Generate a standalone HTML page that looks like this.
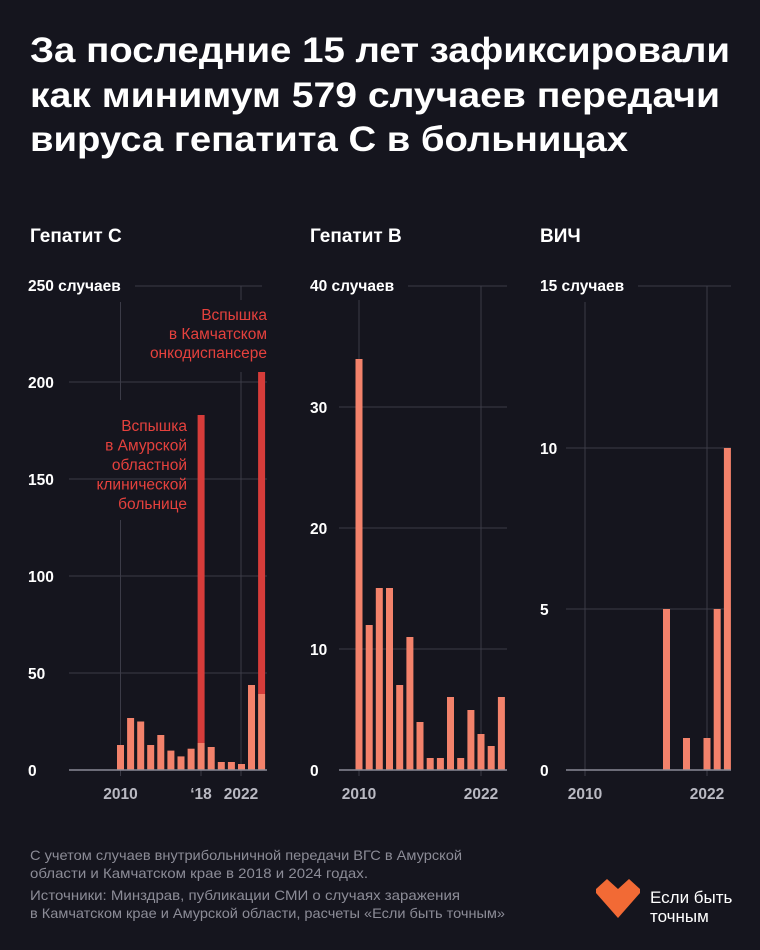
<!DOCTYPE html>
<html><head><meta charset="utf-8"><style>
html,body{margin:0;padding:0;background:#15151e;}
svg{display:block;font-family:"Liberation Sans",sans-serif;}
</style></head><body>
<svg width="760" height="950" viewBox="0 0 760 950" xmlns="http://www.w3.org/2000/svg">
<rect width="760" height="950" fill="#15151e"/>
<g fill="#ffffff" font-weight="bold" font-size="35">
<text x="30" y="62" textLength="700" lengthAdjust="spacingAndGlyphs">За последние 15 лет зафиксировали</text>
<text x="30" y="107" textLength="690" lengthAdjust="spacingAndGlyphs">как минимум 579 случаев передачи</text>
<text x="30" y="151" textLength="598" lengthAdjust="spacingAndGlyphs">вируса гепатита С в больницах</text>
</g>
<g fill="#ffffff" font-weight="bold" font-size="19">
<text x="30" y="242">Гепатит С</text>
<text x="310" y="242">Гепатит В</text>
<text x="540" y="242">ВИЧ</text>
</g>

<!-- Chart 1 -->
<g stroke="#3b3b47" stroke-width="1">
<line x1="135" y1="286" x2="262" y2="286"/>
<line x1="69" y1="382" x2="267" y2="382"/>
<line x1="69" y1="479" x2="267" y2="479"/>
<line x1="69" y1="576" x2="267" y2="576"/>
<line x1="69" y1="673" x2="267" y2="673"/>
<line x1="120.5" y1="302" x2="120.5" y2="400"/>
<line x1="120.5" y1="520" x2="120.5" y2="776"/>
<line x1="241" y1="286" x2="241" y2="300"/>
<line x1="241" y1="372" x2="241" y2="776"/>
<line x1="201" y1="415" x2="201" y2="776"/>
</g>
<g fill="#ffffff" font-weight="bold" font-size="15.5">
<text x="28" y="291">250 случаев</text>
<text x="28" y="388">200</text>
<text x="28" y="485">150</text>
<text x="28" y="582">100</text>
<text x="28" y="679">50</text>
<text x="28" y="776">0</text>
</g>
<g fill="#f3826b">
<rect x="117" y="745" width="7" height="25"/>
<rect x="127.1" y="718" width="7" height="52"/>
<rect x="137.2" y="721.5" width="7" height="48.5"/>
<rect x="147.2" y="745" width="7" height="25"/>
<rect x="157.3" y="735" width="7" height="35"/>
<rect x="167.4" y="750.6" width="7" height="19.4"/>
<rect x="177.5" y="756.4" width="7" height="13.6"/>
<rect x="187.6" y="748.7" width="7" height="21.3"/>
<rect x="197.6" y="743" width="7" height="27"/>
<rect x="207.7" y="747" width="7" height="23"/>
<rect x="217.8" y="762" width="7" height="8"/>
<rect x="227.9" y="762" width="7" height="8"/>
<rect x="238" y="764" width="7" height="6"/>
<rect x="248" y="685" width="7" height="85"/>
<rect x="258.1" y="694" width="7" height="76"/>
</g>
<g fill="#d63c3a">
<rect x="197.6" y="415" width="7" height="328"/>
<rect x="258.1" y="372" width="7" height="322"/>
</g>
<line x1="69" y1="770" x2="267" y2="770" stroke="#8a8a95" stroke-width="1.5"/>
<g fill="#e5413d" font-size="15.5" text-anchor="end">
<text x="267" y="320">Вспышка</text>
<text x="267" y="339">в Камчатском</text>
<text x="267" y="358">онкодиспансере</text>
<text x="187" y="431">Вспышка</text>
<text x="187" y="450.5">в Амурской</text>
<text x="187" y="470">областной</text>
<text x="187" y="489.5">клинической</text>
<text x="187" y="509">больнице</text>
</g>
<g fill="#b9b9c2" font-weight="bold" font-size="15.5" text-anchor="middle">
<text x="120.5" y="799">2010</text>
<text x="201" y="799">‘18</text>
<text x="241" y="799">2022</text>
</g>

<!-- Chart 2 -->
<g stroke="#3b3b47" stroke-width="1">
<line x1="408" y1="286" x2="507" y2="286"/>
<line x1="339" y1="407" x2="507" y2="407"/>
<line x1="339" y1="528" x2="507" y2="528"/>
<line x1="339" y1="649" x2="507" y2="649"/>
<line x1="359" y1="300" x2="359" y2="776"/>
<line x1="481" y1="286" x2="481" y2="776"/>
</g>
<g fill="#ffffff" font-weight="bold" font-size="15.5">
<text x="310" y="291">40 случаев</text>
<text x="310" y="413">30</text>
<text x="310" y="534">20</text>
<text x="310" y="655">10</text>
<text x="310" y="776">0</text>
</g>
<g fill="#f3826b">
<rect x="355.5" y="359" width="7" height="411"/>
<rect x="365.7" y="625" width="7" height="145"/>
<rect x="375.8" y="588" width="7" height="182"/>
<rect x="386" y="588" width="7" height="182"/>
<rect x="396.2" y="685" width="7" height="85"/>
<rect x="406.4" y="637" width="7" height="133"/>
<rect x="416.5" y="722" width="7" height="48"/>
<rect x="426.7" y="758" width="7" height="12"/>
<rect x="436.9" y="758" width="7" height="12"/>
<rect x="447" y="697" width="7" height="73"/>
<rect x="457.2" y="758" width="7" height="12"/>
<rect x="467.4" y="710" width="7" height="60"/>
<rect x="477.5" y="734" width="7" height="36"/>
<rect x="487.7" y="746" width="7" height="24"/>
<rect x="497.9" y="697" width="7" height="73"/>
</g>
<line x1="339" y1="770" x2="507" y2="770" stroke="#8a8a95" stroke-width="1.5"/>
<g fill="#b9b9c2" font-weight="bold" font-size="15.5" text-anchor="middle">
<text x="359" y="799">2010</text>
<text x="481" y="799">2022</text>
</g>

<!-- Chart 3 -->
<g stroke="#3b3b47" stroke-width="1">
<line x1="638" y1="286" x2="731" y2="286"/>
<line x1="566" y1="448" x2="731" y2="448"/>
<line x1="566" y1="609" x2="731" y2="609"/>
<line x1="585" y1="302" x2="585" y2="776"/>
<line x1="707" y1="286" x2="707" y2="776"/>
</g>
<g fill="#ffffff" font-weight="bold" font-size="15.5">
<text x="540" y="291">15 случаев</text>
<text x="540" y="454">10</text>
<text x="540" y="615">5</text>
<text x="540" y="776">0</text>
</g>
<g fill="#f3826b">
<rect x="663" y="609" width="7" height="161"/>
<rect x="683" y="738" width="7" height="32"/>
<rect x="703.5" y="738" width="7" height="32"/>
<rect x="713.7" y="609" width="7" height="161"/>
<rect x="723.9" y="448" width="7" height="322"/>
</g>
<line x1="566" y1="770" x2="731" y2="770" stroke="#8a8a95" stroke-width="1.5"/>
<g fill="#b9b9c2" font-weight="bold" font-size="15.5" text-anchor="middle">
<text x="585" y="799">2010</text>
<text x="707" y="799">2022</text>
</g>

<!-- Footer -->
<g fill="#8c8c97" font-size="14">
<text x="30" y="860" textLength="432" lengthAdjust="spacingAndGlyphs">С учетом случаев внутрибольничной передачи ВГС в Амурской</text>
<text x="30" y="878" textLength="338" lengthAdjust="spacingAndGlyphs">области и Камчатском крае в 2018 и 2024 годах.</text>
<text x="30" y="900" textLength="430" lengthAdjust="spacingAndGlyphs">Источники: Минздрав, публикации СМИ о случаях заражения</text>
<text x="30" y="918" textLength="475" lengthAdjust="spacingAndGlyphs">в Камчатском крае и Амурской области, расчеты «Если быть точным»</text>
</g>
<path d="M596 889 L607 879 L618 889 L629 879 L640 889 L640 893 L618 918 L596 893 Z" fill="#f26a35"/>
<g fill="#ffffff" font-size="17">
<text x="650" y="903">Если быть</text>
<text x="650" y="922">точным</text>
</g>
</svg>
</body></html>
